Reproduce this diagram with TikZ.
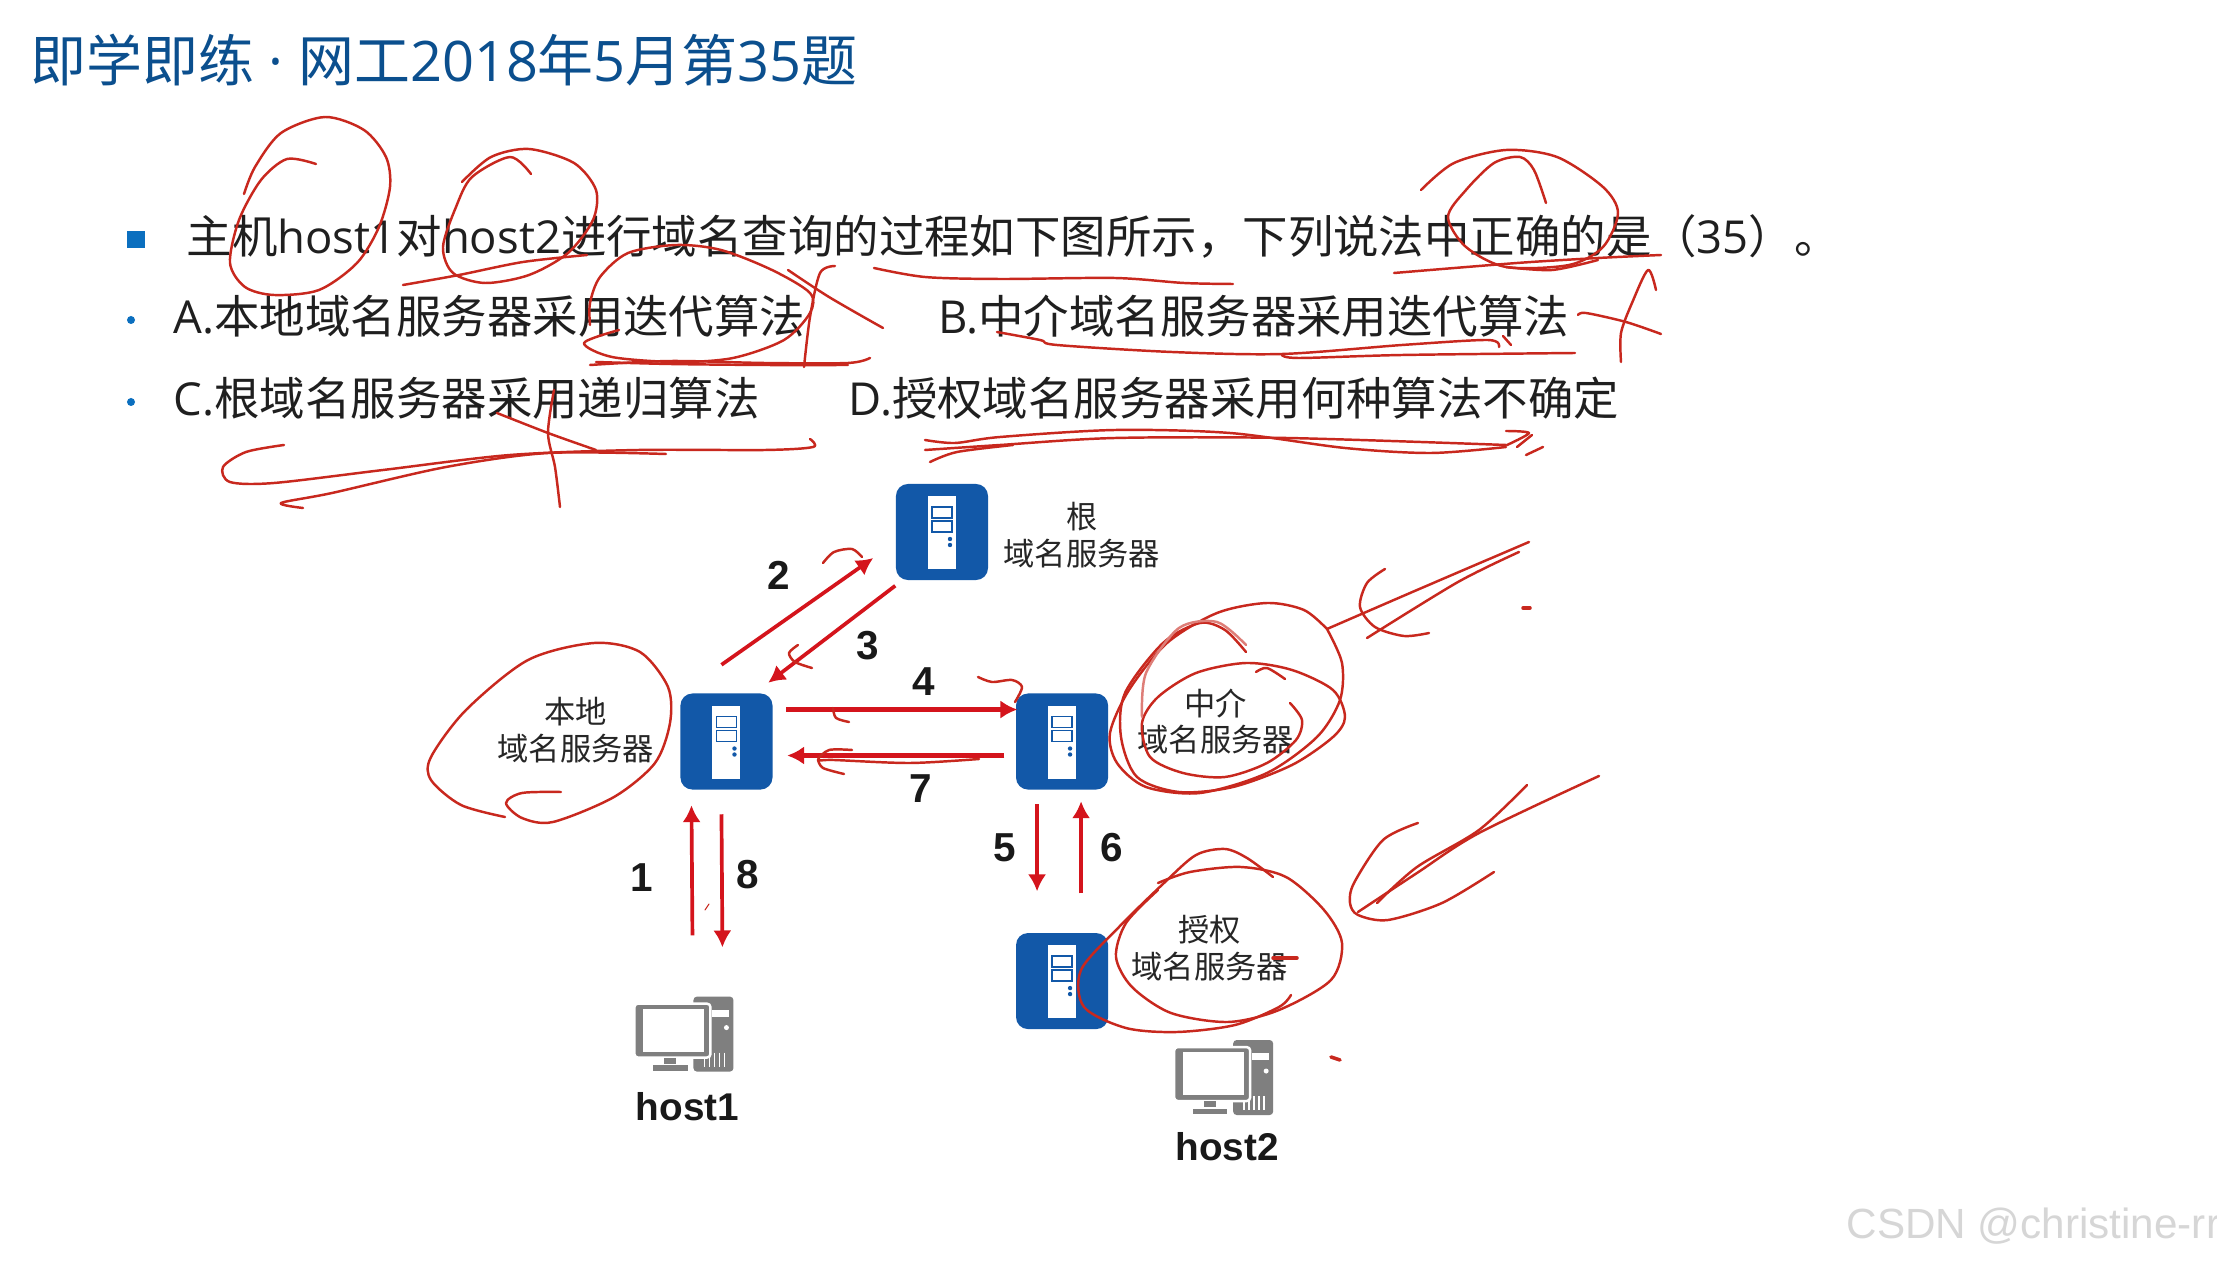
\documentclass[tikz,border=0pt]{standalone}
\usepackage{fontspec}
\setmainfont{Open Sans}
\newfontfamily\cjk{Noto Sans CJK SC}
\newfontfamily\arialish{Liberation Sans}
\usetikzlibrary{positioning, arrows.meta}
\definecolor{titleblue}{HTML}{0B4F8E}
\definecolor{bulletblue}{HTML}{0B6FBF}
\definecolor{serverblue}{HTML}{1258A8}
\definecolor{flowred}{HTML}{D4141C}
\definecolor{inkred}{HTML}{C8281E}
\definecolor{hostgray}{HTML}{7F7F7F}

% server glyph, drawn over a serverbox node
\newcommand{\serverglyph}[1]{
    \begin{scope}[shift={(#1.center)}]
        \fill[white] (-14,-36) rectangle (14,37);
        \draw[serverblue, line width=0.45pt] (-10,-25) rectangle (10,-14);
        \draw[serverblue, line width=0.45pt] (-10,-11) rectangle (10,0);
        \fill[serverblue] (8,7) circle (2.2) (8,13) circle (2.2);
    \end{scope}
}
% computer glyph, drawn over a hostbox node
\newcommand{\hostglyph}[1]{
    \begin{scope}[shift={(#1.center)}]
        \fill[hostgray, rounded corners=1pt] (9,-37) rectangle (49,38);
        \fill[white] (28,-24) rectangle (45,-17);
        \fill[white] (42,-6) circle (2.5);
        \foreach \vx in {20,25,30,35,40} {
            \draw[white, line width=0.4pt] (\vx,19) -- (\vx,33);
        }
        \fill[hostgray, draw=white, line width=0.7pt, rounded corners=1pt] (-50,-30) rectangle (26,24);
        \fill[white] (-41,-25) rectangle (20,18);
        \fill[hostgray] (-20,24) rectangle (-8,31);
        \fill[hostgray, draw=white, line width=0.4pt] (-32,31) rectangle (4,38);
    \end{scope}
}

\begin{document}
\begin{tikzpicture}[
        x=0.01cm, y=-0.01cm,
        titletext/.style={anchor=west, inner sep=0pt, text=titleblue, font=\fontsize{15.9pt}{18pt}\selectfont},
        qline/.style={anchor=west, inner sep=0pt, text=black!88, font=\fontsize{12.92pt}{15pt}\selectfont},
        bulletsq/.style={rectangle, fill=bulletblue, inner sep=0pt, minimum width=0.17cm, minimum height=0.17cm},
        bulletdot/.style={circle, fill=bulletblue, inner sep=0pt, minimum size=0.08cm},
        serverbox/.style={rectangle, fill=serverblue, rounded corners=3.4pt, inner sep=0pt, minimum width=0.92cm, minimum height=0.96cm},
        hostbox/.style={rectangle, inner sep=0pt, minimum width=0.99cm, minimum height=0.75cm},
        srvlabel/.style={inner sep=0pt, align=center, text=black!85, font=\cjk\fontsize{8.9pt}{10.5pt}\selectfont},
        hostlabel/.style={inner sep=0pt, text=black!90, font=\arialish\bfseries\fontsize{11pt}{13pt}\selectfont},
        numlabel/.style={inner sep=0pt, text=black!90, font=\arialish\bfseries\fontsize{11.5pt}{13pt}\selectfont},
        flow/.style={-{Latex[length=4.8pt, width=5.2pt]}, flowred, line width=1.05pt},
        flowthick/.style={flow, line width=1.4pt},
        ink/.style={inkred, line width=0.7pt, line cap=round, line join=round}
    ]
        \useasboundingbox (0,0) rectangle (2217,1261);
        \fill[white] (0,0) rectangle (2217,1261);

        % Title and question
        \node[titletext] (title) at (30,60) {{\cjk 即学即练} · {\cjk 网工}2018{\cjk 年}5{\cjk 月第}35{\cjk 题}};
        \node[bulletsq] (b1) at (136,240) {};
        \node[bulletdot] (b2) at (131,320) {};
        \node[bulletdot] (b3) at (131,402) {};
        \node[qline] (q) at (186,236) {{\cjk 主机}host1{\cjk 对}host2{\cjk 进行域名查询的过程如下图所示，下列说法中正确的是（}35{\cjk ）。}};
        \node[qline] (optA) at (173,316) {A.{\cjk 本地域名服务器采用迭代算法}};
        \node[qline] (optB) at (938,316) {B.{\cjk 中介域名服务器采用迭代算法}};
        \node[qline] (optC) at (173,398) {C.{\cjk 根域名服务器采用递归算法}};
        \node[qline] (optD) at (848,398) {D.{\cjk 授权域名服务器采用何种算法不确定}};

        % Servers
        \node[serverbox] (root) at (942,532) {};
        \node[serverbox, below left=1.12cm and 1.22cm of root] (local) {};
        \node[serverbox, right=2.42cm of local] (mid) {};
        \node[serverbox, below=1.42cm of mid] (auth) {};
        \serverglyph{root}
        \serverglyph{local}
        \serverglyph{mid}
        \serverglyph{auth}

        \node[srvlabel, right=0.14cm of root, yshift=-0.03cm] (rootlabel) {根\\域名服务器};
        \node[srvlabel, left=0.25cm of local, yshift=0.11cm] (locallabel) {本地\\域名服务器};
        \node[srvlabel, right=0.28cm of mid, yshift=0.2cm] (midlabel) {中介\\域名服务器};
        \node[srvlabel, right=0.22cm of auth, yshift=0.33cm] (authlabel) {授权\\域名服务器};

        % Hosts
        \node[hostbox, below=2.05cm of local, xshift=-0.42cm] (host1) {};
        \node[hostbox, below=0.09cm of auth, xshift=1.62cm] (host2) {};
        \hostglyph{host1}
        \hostglyph{host2}
        \node[hostlabel, below=0.2cm of host1, xshift=0.03cm] (host1label) {host1};
        \node[hostlabel, below=0.16cm of host2, xshift=0.03cm] (host2label) {host2};

        % Query steps
        \draw[flow] ([shift={(8,-60)}]host1.north) -- ([shift={(-35,15)}]local.south);
        \draw[flow] ([shift={(-5,-28)}]local.north) -- ([shift={(-22,26)}]root.west);
        \draw[flow] ([shift={(0,5)}]root.south west) -- ([shift={(-5,-10)}]local.north east);
        \draw[flowthick] ([shift={(13,-32)}]local.east) -- ([shift={(2,-32)}]mid.west);
        \draw[flow] ([shift={(-25,14)}]mid.south) -- ([shift={(-25,-41)}]auth.north);
        \draw[flow] ([shift={(19,-39)}]auth.north) -- ([shift={(19,11)}]mid.south);
        \draw[flowthick] ([shift={(-11,14)}]mid.west) -- ([shift={(14,14)}]local.east);
        \draw[flow] ([shift={(-5,24)}]local.south) -- ([shift={(38,-48)}]host1.north);

        \node[numlabel] (n1) at (642,878) {1};
        \node[numlabel] (n2) at (779,575) {2};
        \node[numlabel] (n3) at (868,646) {3};
        \node[numlabel] (n4) at (924,682) {4};
        \node[numlabel] (n5) at (1005,848) {5};
        \node[numlabel] (n6) at (1112,848) {6};
        \node[numlabel] (n7) at (921,789) {7};
        \node[numlabel] (n8) at (748,875) {8};

        % Watermark
        \node[anchor=west, inner sep=0pt, text=black!16, font=\arialish\fontsize{12pt}{14pt}\selectfont] (mark) at (1846,1226) {CSDN @christine-rr};

        % Pen marks over the question
        \draw[ink] plot[smooth] coordinates {(244,194) (255,167) (281,133) (325,117) (364,130) (386,157) (390,187) (379,227) (357,263) (319,290) (274,295) (245,287) (230,263) (239,220) (261,180) (287,159) (316,164)};
        \draw[ink] plot[smooth] coordinates {(531,174) (510,157) (472,177) (456,207) (443,247) (453,273) (485,283) (529,275) (568,253) (593,220) (596,190) (574,163) (529,149) (491,157) (462,182)};
        \draw[ink] plot[smooth] coordinates {(403,285) (459,275) (523,262) (587,255)};
        \draw[ink] plot[smooth] coordinates {(619,330) (584,343) (612,357) (676,362) (733,358) (784,340) (810,313) (810,293) (772,270) (721,250) (676,245) (628,253) (600,277) (590,303) (590,325)};
        \draw[ink] plot[smooth] coordinates {(590,365) (670,361) (765,363) (848,363) (870,358)};
        \draw[ink] plot[smooth] coordinates {(596,362) (670,364) (765,365) (848,365)};
        \draw[ink] plot[smooth] coordinates {(788,270) (829,297) (883,328)};
        \draw[ink] plot[smooth] coordinates {(835,266) (820,273) (810,317) (804,367)};
        \draw[ink] plot[smooth] coordinates {(874,268) (925,277) (1000,279) (1115,278) (1184,283) (1233,284)};
        \draw[ink] plot[smooth] coordinates {(1421,190) (1454,163) (1506,150) (1557,157) (1603,187) (1618,213) (1603,247) (1569,265) (1506,267) (1466,247) (1448,217) (1466,190) (1494,163) (1520,157) (1534,170) (1546,203)};
        \draw[ink] plot[smooth] coordinates {(1394,273) (1517,263) (1598,258) (1661,255)};
        \draw[ink] plot[smooth] coordinates {(1506,267) (1552,270) (1598,260)};
        \draw[ink] plot[smooth] coordinates {(1578,315) (1586,313) (1626,322) (1661,334)};
        \draw[ink] plot[smooth] coordinates {(1656,290) (1648,270) (1632,303) (1621,333) (1621,362)};
        \draw[ink] plot[smooth] coordinates {(997,332) (1040,340) (1057,345) (1172,352) (1282,354) (1402,345) (1488,340) (1499,347)};
        \draw[ink] plot[smooth] coordinates {(1282,355) (1299,358) (1402,355) (1575,353)};
        \draw[ink] (1503,336) -- (1511,345);
        \draw[ink] plot[smooth] coordinates {(284,445) (246,452) (223,467) (230,482) (274,483) (383,470) (510,455) (638,450) (765,450) (813,447) (810,439)};
        \draw[ink] plot[smooth] coordinates {(303,508) (281,503) (332,493) (446,467) (548,453) (666,454)};
        \draw[ink] plot[smooth] coordinates {(497,413) (548,433) (596,450)};
        \draw[ink] plot[smooth] coordinates {(554,390) (548,433) (555,467) (560,507)};
        \draw[ink] plot[smooth] coordinates {(925,440) (955,443) (1000,437) (1115,430) (1230,433) (1345,448) (1431,453) (1506,447)};
        \draw[ink] plot[smooth] coordinates {(925,450) (1000,445) (1115,438) (1287,438) (1506,445)};
        \draw[ink] plot[smooth] coordinates {(930,462) (957,452) (1013,445)};
        \draw[ink] plot[smooth] coordinates {(1506,431) (1529,433) (1507,445)};
        \draw[ink] (1532,435) -- (1517,447);
        \draw[ink] (1543,447) -- (1526,455);

        % Pen marks over the diagram
        \draw[ink] plot[smooth] coordinates {(505,817) (461,805) (431,780) (431,757) (466,710) (528,660) (594,643) (640,652) (668,687) (670,723) (655,763) (614,797) (553,822) (522,818) (506,803) (522,793) (561,792)};
        \draw[ink] plot[smooth] coordinates {(823,563) (834,552) (852,549) (862,557)};
        \draw[ink] plot[smooth] coordinates {(798,645) (789,653) (795,662) (812,668)};
        \draw[ink] plot[smooth] coordinates {(978,677) (992,682) (1012,680) (1022,687) (1015,702)};
        \draw[ink] plot[smooth] coordinates {(833,708) (836,718) (849,722)};
        \draw[ink] plot[smooth] coordinates {(979,759) (910,763) (834,760) (818,760) (829,750) (852,750)};
        \draw[ink] plot[smooth] coordinates {(818,760) (823,768) (844,774)};
        \draw[ink, line width=0.3pt] (709,904) -- (705,910);
        \draw[ink] plot[smooth] coordinates {(1529,542) (1417,590) (1327,629)};
        \draw[ink] plot[smooth] coordinates {(1327,629) (1342,663) (1340,700) (1317,737) (1267,773) (1200,793) (1146,787) (1117,763) (1110,733) (1129,690) (1167,643) (1217,613) (1267,603) (1304,610) (1327,629)};
        \draw[ink] plot[smooth] coordinates {(1246,652) (1225,630) (1200,623) (1163,643) (1125,693) (1121,737) (1137,777) (1179,792) (1233,787) (1292,765) (1333,737) (1345,717) (1333,690) (1292,670) (1246,663) (1196,673) (1158,697) (1142,723) (1150,757) (1183,773) (1225,777) (1267,763) (1296,740) (1302,720) (1290,703)};
        \draw[ink, inkred!60] plot[smooth] coordinates {(1246,645) (1217,622) (1179,628) (1146,673) (1142,717)};
        \draw[ink] plot[smooth] coordinates {(1256,672) (1267,668) (1285,679)};
        \draw[ink] plot[smooth] coordinates {(1519,552) (1458,582) (1367,638)};
        \draw[ink] plot[smooth] coordinates {(1385,569) (1367,583) (1360,607) (1375,627) (1404,636) (1429,633)};
        \draw[ink, line width=1pt] (1523,608) -- (1530,608);
        \draw[ink] plot[smooth] coordinates {(1599,776) (1479,833) (1417,873) (1358,912)};
        \draw[ink] plot[smooth] coordinates {(1527,785) (1479,830) (1417,867) (1377,903)};
        \draw[ink] plot[smooth] coordinates {(1418,823) (1383,840) (1354,883) (1350,903) (1358,915) (1388,920) (1442,903) (1494,872)};
        \draw[ink] plot[smooth] coordinates {(1273,877) (1247,858) (1225,849) (1196,855) (1164,883) (1119,927) (1081,970) (1084,1007) (1126,1028) (1177,1032) (1235,1025) (1279,1007) (1291,995)};
        \draw[ink] plot[smooth] coordinates {(1158,883) (1190,872) (1241,867) (1286,877) (1324,910) (1342,943) (1331,980) (1279,1010) (1228,1022) (1171,1013) (1132,987) (1116,957) (1126,923) (1158,890)};
        \draw[ink, line width=1pt] (1273,958) -- (1297,958);
        \draw[ink, line width=1pt] (1331,1057) -- (1340,1060);
    \end{tikzpicture}
\end{document}
